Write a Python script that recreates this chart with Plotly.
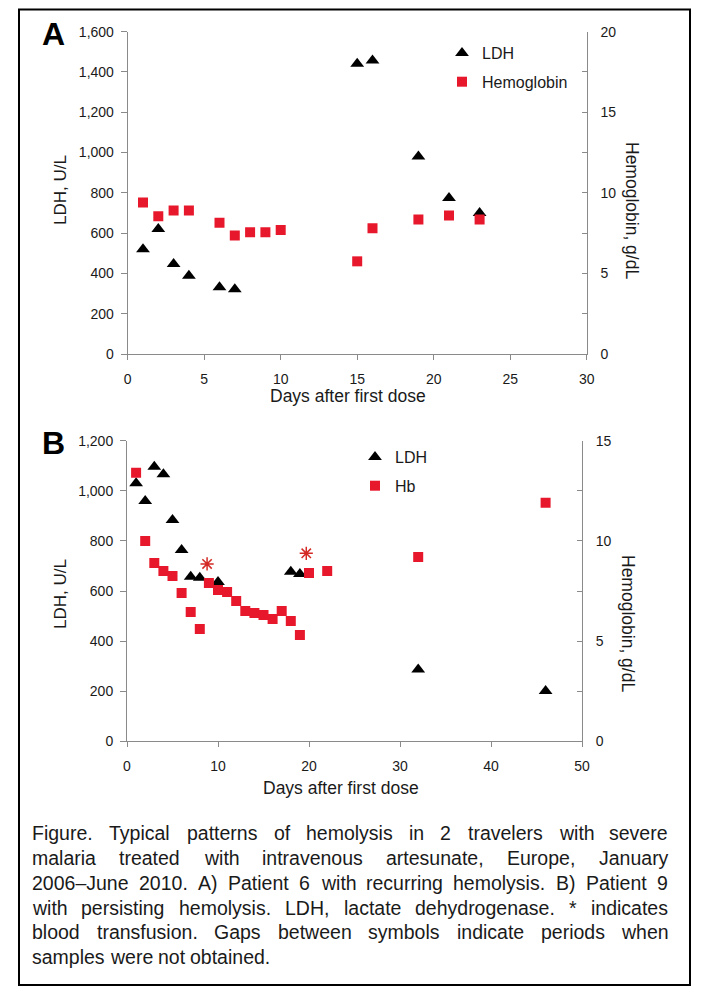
import plotly.graph_objects as go

# ---------------- data ----------------
daysA_ldh = [1, 2, 3, 4, 6, 7, 15, 16, 19, 21, 23]
ldhA = [520, 620, 447, 388, 331, 321, 1441, 1457, 980, 774, 700]
daysA_hb = [1, 2, 3, 4, 6, 7, 8, 9, 10, 15, 16, 19, 21, 23]
hbA = [9.4, 8.55, 8.9, 8.9, 8.15, 7.35, 7.55, 7.55, 7.7, 5.75, 7.8, 8.35, 8.6, 8.35]

daysB_ldh = [1, 2, 3, 4, 5, 6, 7, 8, 10, 18, 19, 32, 46]
ldhB = [1030, 959, 1096, 1066, 883, 764, 657, 653, 636, 677, 668, 287, 201]
daysB_hb = [1, 2, 3, 4, 5, 6, 7, 8, 9, 10, 11, 12, 13, 14, 15, 16, 17, 18, 19, 20, 22, 32, 46]
hbB = [13.4, 10.0, 8.9, 8.5, 8.25, 7.4, 6.45, 5.6, 7.9, 7.55, 7.45, 7.0, 6.5, 6.4, 6.3,
       6.1, 6.5, 6.0, 5.3, 8.4, 8.5, 9.2, 11.9]
daysB_tx = [8.8, 19.7]
hbB_tx = [8.85, 9.38]

caption_lines = [
    "Figure. Typical patterns of hemolysis in 2 travelers with severe",
    "malaria treated with intravenous artesunate, Europe, January",
    "2006\u2013June 2010. A) Patient 6 with recurring hemolysis. B) Patient 9",
    "with persisting hemolysis. LDH, lactate dehydrogenase. * indicates",
    "blood transfusion. Gaps between symbols indicate periods when",
    "samples were not obtained.",
]

# ---------------- styling ----------------
W, H = 703, 994
FONT = "Liberation Sans, Arial, sans-serif"
RED = "#e8182c"
AX = "#8a8a8a"
TXT = "#1a1a1a"

def px(x):
    return x / W

def py(y):
    return 1 - y / H

fig = go.Figure()

fig.add_trace(go.Scatter(x=daysA_ldh, y=ldhA, mode="markers", name="LDH",
                         marker=dict(symbol="triangle-up", size=12, color="black"),
                         xaxis="x", yaxis="y", legend="legend", legendgroup="a1"))
fig.add_trace(go.Scatter(x=daysA_hb, y=hbA, mode="markers", name="Hemoglobin",
                         marker=dict(symbol="square", size=10, color=RED),
                         xaxis="x", yaxis="y2", legend="legend", legendgroup="a2"))
fig.add_trace(go.Scatter(x=daysB_ldh, y=ldhB, mode="markers", name="LDH",
                         marker=dict(symbol="triangle-up", size=12, color="black"),
                         xaxis="x2", yaxis="y3", legend="legend2", legendgroup="b1"))
fig.add_trace(go.Scatter(x=daysB_hb, y=hbB, mode="markers", name="Hb",
                         marker=dict(symbol="square", size=10, color=RED),
                         xaxis="x2", yaxis="y4", legend="legend2", legendgroup="b2"))
fig.add_trace(go.Scatter(x=daysB_tx, y=hbB_tx, mode="markers", showlegend=False,
                         marker=dict(symbol="asterisk-open", size=11, color="#d42a26",
                                     line=dict(color="#d42a26", width=1.5)),
                         xaxis="x2", yaxis="y4"))

tickfont = dict(family=FONT, size=14, color=TXT)
base = dict(showline=True, linecolor=AX, linewidth=1, tickcolor=AX, tickwidth=1,
            showgrid=False, zeroline=False, tickfont=tickfont, automargin=False)

domA_x = [px(127.7), px(586.7)]
domA_y = [py(354), py(31.7)]
domB_x = [px(127), px(582)]
domB_y = [py(741.3), py(440.7)]

fig.update_layout(
    width=W, height=H, autosize=False,
    margin=dict(l=0, r=0, t=0, b=0, pad=0, autoexpand=False),
    paper_bgcolor="white", plot_bgcolor="white",
    font=dict(family=FONT, color=TXT),
    xaxis=dict(domain=domA_x, range=[0, 30], dtick=5, ticks="outside", ticklen=5,
               ticklabelstandoff=7, anchor="y", **base),
    yaxis=dict(domain=domA_y, range=[0, 1600], dtick=200, tickformat=",",
               ticks="outside", ticklen=6, ticklabelstandoff=4, anchor="x", **base),
    yaxis2=dict(range=[0, 20], dtick=5, ticks="inside", ticklen=5, side="right",
                overlaying="y", anchor="x", ticklabelstandoff=10,
                minor=dict(dtick=2.5, ticks="inside", ticklen=5, tickcolor=AX), **base),
    xaxis2=dict(domain=domB_x, range=[0, 50], dtick=10, ticks="outside", ticklen=5,
                ticklabelstandoff=7, anchor="y3", **base),
    yaxis3=dict(domain=domB_y, range=[0, 1200], dtick=200, tickformat=",",
                ticks="outside", ticklen=6, ticklabelstandoff=4, anchor="x2", **base),
    yaxis4=dict(range=[0, 15], dtick=5, ticks="inside", ticklen=5, side="right",
                overlaying="y3", anchor="x2", ticklabelstandoff=10,
                minor=dict(dtick=2.5, ticks="inside", ticklen=5, tickcolor=AX), **base),
    legend=dict(x=px(442), y=py(36), xanchor="left", yanchor="top",
                bgcolor="rgba(0,0,0,0)", itemwidth=30, tracegroupgap=5,
                font=dict(family=FONT, size=16, color=TXT)),
    legend2=dict(x=px(355), y=py(440), xanchor="left", yanchor="top",
                 bgcolor="rgba(0,0,0,0)", itemwidth=30, tracegroupgap=5,
                 font=dict(family=FONT, size=16, color=TXT)),
    showlegend=True,
)

ann = []
def label(x, y, text, size, angle=0, bold=False, xanchor="center"):
    ann.append(dict(x=px(x), y=py(y), xref="paper", yref="paper", text=text,
                    showarrow=False, textangle=angle, xanchor=xanchor, yanchor="middle",
                    font=dict(family=FONT, size=size, color="black" if bold else TXT,
                              weight="bold" if bold else "normal")))

label(53.5, 34, "A", 32, bold=True)
label(53.5, 443, "B", 32, bold=True)
label(60, 190, "LDH, U/L", 17, angle=-90)
label(632, 210, "Hemoglobin, g/dL", 17.5, angle=90)
label(348, 396, "Days after first dose", 17.5)
label(60, 594, "LDH, U/L", 17, angle=-90)
label(628, 623, "Hemoglobin, g/dL", 17.5, angle=90)
label(341, 788, "Days after first dose", 17.5)

# justified caption (Arial / Liberation Sans advance widths, 1/1000 em)
wtab = {' ': 278, 'a': 556, 'b': 556, 'c': 500, 'd': 556, 'e': 556, 'f': 278, 'g': 556,
        'h': 556, 'i': 222, 'j': 222, 'k': 500, 'l': 222, 'm': 833, 'n': 556, 'o': 556,
        'p': 556, 'q': 556, 'r': 333, 's': 500, 't': 278, 'u': 556, 'v': 500, 'w': 722,
        'x': 500, 'y': 500, 'z': 500, '.': 278, ',': 278, ')': 333, '(': 333, '*': 389,
        '\u2013': 556, '-': 333, 'A': 667, 'B': 667, 'C': 722, 'D': 722, 'E': 667,
        'F': 611, 'G': 778, 'H': 722, 'J': 500, 'L': 556, 'P': 667, 'T': 611}
def wem(s):
    return sum(wtab.get(c, 556) for c in s) / 1000.0

CAP_SIZE = 19.5
left, right = 31, 667
ys = [833, 858, 883, 908, 932, 957]
for i, line in enumerate(caption_lines):
    words = line.split(" ")
    last = i == len(caption_lines) - 1
    widths = [wem(w) * CAP_SIZE for w in words]
    if last or len(words) < 2:
        gap = wem(" ") * CAP_SIZE
    else:
        gap = (right - left - sum(widths)) / (len(words) - 1)
    x = left
    for w, ww in zip(words, widths):
        ann.append(dict(x=px(x), y=py(ys[i]), xref="paper", yref="paper", text=w,
                        showarrow=False, xanchor="left", yanchor="middle", borderpad=0,
                        font=dict(family=FONT, size=CAP_SIZE, color=TXT)))
        x += ww + gap

fig.update_layout(annotations=ann)

fig.add_shape(type="rect", xref="paper", yref="paper",
              x0=px(19), x1=px(690), y0=py(985), y1=py(9.5),
              line=dict(color="black", width=2), fillcolor="rgba(0,0,0,0)")

fig.write_html(
    "out.html",
    config={"displayModeBar": False},
    post_script=("document.documentElement.style.margin='0';"
                 "document.documentElement.style.overflow='hidden';"
                 "document.body.style.margin='0';document.body.style.padding='0';"
                 "document.body.style.overflow='hidden';"
                 "var gd=document.getElementById('{plot_id}');"
                 "gd.style.position='fixed';gd.style.left='0px';gd.style.top='0px';"),
)
